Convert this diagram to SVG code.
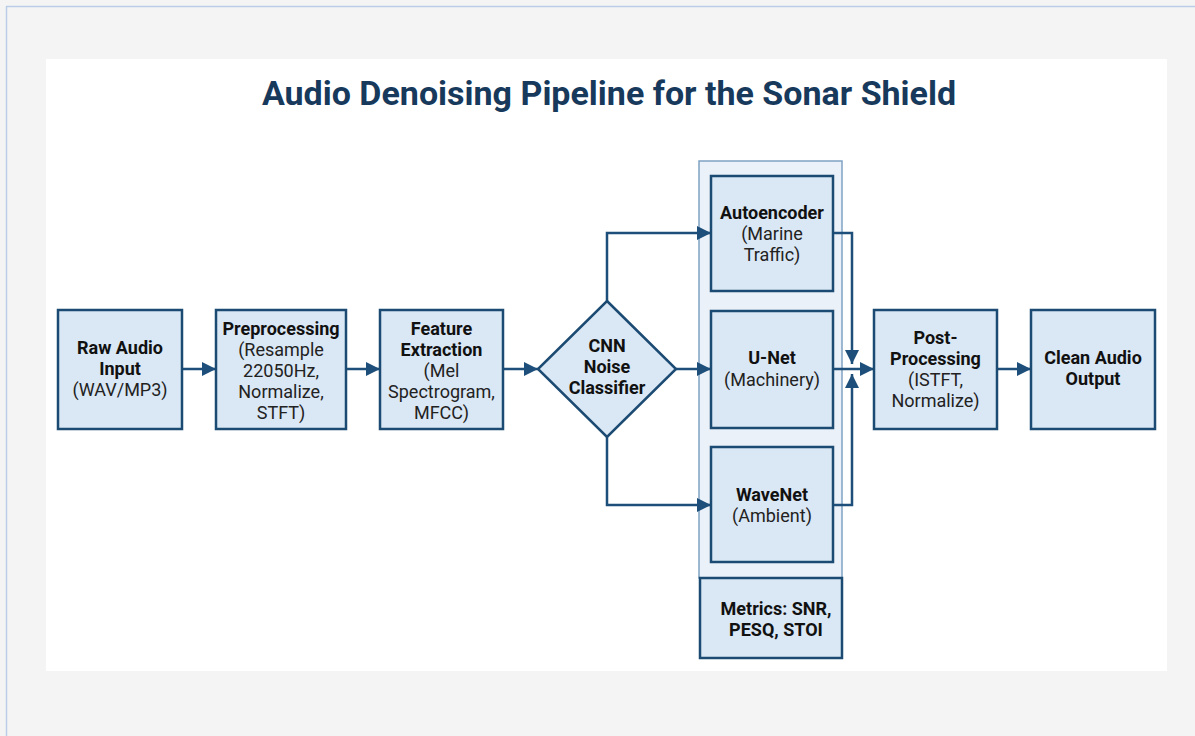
<svg xmlns="http://www.w3.org/2000/svg" width="1195" height="736" viewBox="0 0 1195 736">
<defs>
<style>
.box{fill:#dae7f4;stroke:#1b4a72;stroke-width:2.5}
.grp{fill:#eaf1f9;stroke:#7fa2c2;stroke-width:1.5}
.b{font-family:Roboto,"Liberation Sans",sans-serif;font-weight:bold;font-size:18px;fill:#111;text-anchor:middle}
.r{font-family:Roboto,"Liberation Sans",sans-serif;font-size:18px;fill:#222;text-anchor:middle}
.c{fill:none;stroke:#1d4f7a;stroke-width:2.5}
</style>
<marker id="ah" viewBox="0 0 10 10" refX="10" refY="5" markerWidth="5.6" markerHeight="5.6" orient="auto" markerUnits="strokeWidth">
<path d="M0,0 L10,5 L0,10 z" fill="#1d4f7a"/>
</marker>
</defs>
<rect x="0" y="0" width="1195" height="736" fill="#f4f4f4"/>
<line x1="6.5" y1="6" x2="6.5" y2="736" stroke="#b9cde6" stroke-width="1.5"/>
<line x1="6" y1="6.5" x2="1195" y2="6.5" stroke="#b9cde6" stroke-width="1.5"/>
<rect x="46" y="59" width="1121" height="612" fill="#ffffff"/>
<text x="609" y="105" font-family="Roboto,'Liberation Sans',sans-serif" font-weight="bold" font-size="34" fill="#17395b" text-anchor="middle">Audio Denoising Pipeline for the Sonar Shield</text>

<g id="models-group"><rect class="grp" x="699" y="161" width="143" height="417"/></g>

<g id="connectors">
<path class="c" d="M182,369 H216" marker-end="url(#ah)"/>
<path class="c" d="M346,369 H380" marker-end="url(#ah)"/>
<path class="c" d="M503,369 H538" marker-end="url(#ah)"/>
<path class="c" d="M607,301 V233 H711" marker-end="url(#ah)"/>
<path class="c" d="M676,369 H711" marker-end="url(#ah)"/>
<path class="c" d="M607,437 V505 H711" marker-end="url(#ah)"/>
<path class="c" d="M833,233 H852 V364" marker-end="url(#ah)"/>
<path class="c" d="M833,505 H852 V374" marker-end="url(#ah)"/>
<path class="c" d="M833,369 H874" marker-end="url(#ah)"/>
<path class="c" d="M997,369 H1031" marker-end="url(#ah)"/>
</g>

<g id="raw-audio"><rect class="box" x="58" y="310" width="124" height="119"/>
<text class="b" x="120" y="354">Raw Audio</text><text class="b" x="120" y="375">Input</text><text class="r" x="120" y="396">(WAV/MP3)</text></g>

<g id="preprocessing"><rect class="box" x="216" y="310" width="130" height="119"/>
<text class="b" x="281" y="335">Preprocessing</text><text class="r" x="281" y="356">(Resample</text><text class="r" x="281" y="377">22050Hz,</text><text class="r" x="281" y="398">Normalize,</text><text class="r" x="281" y="419">STFT)</text></g>

<g id="feature-extraction"><rect class="box" x="380" y="310" width="123" height="119"/>
<text class="b" x="441.5" y="335">Feature</text><text class="b" x="441.5" y="356">Extraction</text><text class="r" x="441.5" y="377">(Mel</text><text class="r" x="441.5" y="398">Spectrogram,</text><text class="r" x="441.5" y="419">MFCC)</text></g>

<g id="cnn-classifier"><polygon class="box" points="607,301 676,369 607,437 538,369"/>
<text class="b" x="607" y="352">CNN</text><text class="b" x="607" y="373">Noise</text><text class="b" x="607" y="394">Classifier</text></g>

<g id="autoencoder"><rect class="box" x="711" y="176" width="122" height="115"/>
<text class="b" x="772" y="219">Autoencoder</text><text class="r" x="772" y="240">(Marine</text><text class="r" x="772" y="261">Traffic)</text></g>

<g id="unet"><rect class="box" x="711" y="311" width="122" height="117"/>
<text class="b" x="772" y="364">U-Net</text><text class="r" x="772" y="386">(Machinery)</text></g>

<g id="wavenet"><rect class="box" x="711" y="447" width="122" height="115"/>
<text class="b" x="772" y="501">WaveNet</text><text class="r" x="772" y="522">(Ambient)</text></g>

<g id="metrics"><rect class="box" x="700" y="578" width="142" height="80"/>
<text class="b" x="776" y="615">Metrics: SNR,</text><text class="b" x="776" y="636">PESQ, STOI</text></g>

<g id="post-processing"><rect class="box" x="874" y="310" width="123" height="119"/>
<text class="b" x="935.5" y="344">Post-</text><text class="b" x="935.5" y="365">Processing</text><text class="r" x="935.5" y="386">(ISTFT,</text><text class="r" x="935.5" y="407">Normalize)</text></g>

<g id="clean-output"><rect class="box" x="1031" y="310" width="124" height="119"/>
<text class="b" x="1093" y="364">Clean Audio</text><text class="b" x="1093" y="385">Output</text></g>
</svg>
